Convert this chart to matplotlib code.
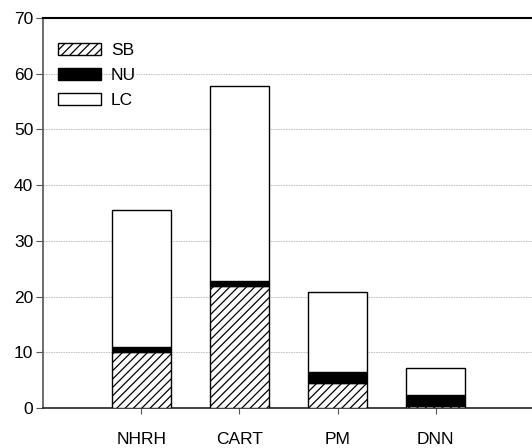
import numpy as np
import matplotlib.pyplot as plt

# ---- datos ----
metodos = ["NHRH", "CART", "PM", "DNN"]
sb = [10.0, 21.9, 4.4, 0.3]
nu = [0.9, 0.9, 2.1, 2.0]
lc = [24.6, 35.0, 14.4, 4.8]

plt.rcParams["font.family"] = ["Liberation Sans", "DejaVu Sans"]
plt.rcParams["hatch.linewidth"] = 0.9

fig = plt.figure(figsize=(5.32, 4.48), dpi=100)
ax = fig.add_axes([43 / 532, 1 - 408 / 448, 1 - 43 / 532, (408 - 18) / 448])

x = np.arange(1, len(metodos) + 1)
w = 0.6
sb_a = np.array(sb)
nu_a = np.array(nu)
lc_a = np.array(lc)

ax.bar(x, sb_a, w, color="white", edgecolor="black", hatch="////", linewidth=1.0, label="SB", zorder=3)
ax.bar(x, nu_a, w, bottom=sb_a, color="black", edgecolor="black", linewidth=1.0, label="NU", zorder=3)
ax.bar(x, lc_a, w, bottom=sb_a + nu_a, color="white", edgecolor="black", linewidth=1.0, label="LC", zorder=3)

ax.set_xlim(0, 4.98)
ax.set_ylim(0, 70)
ax.set_yticks(np.arange(0, 71, 10))
ax.set_xticks(x)
ax.set_xticklabels(metodos)
ax.tick_params(axis="both", labelsize=12.5, colors="#555555", labelcolor="black")
ax.tick_params(axis="x", length=4, pad=13)
ax.tick_params(axis="y", length=5, pad=2)

for y in range(10, 70, 10):
    ax.axhline(y, color="#bbbbbb", linestyle=(0, (2, 1)), linewidth=0.6, zorder=1)

ax.spines["right"].set_visible(False)
ax.spines["left"].set_color("#555555")
ax.spines["left"].set_linewidth(1.2)
ax.spines["bottom"].set_color("#222222")
ax.spines["bottom"].set_linewidth(1.2)
ax.spines["top"].set_color("black")
ax.spines["top"].set_linewidth(1.5)

ax.legend(loc="upper left", bbox_to_anchor=(-0.012, 0.99), frameon=False, fontsize=12.5,
          handlelength=2.5, handleheight=0.7, labelspacing=0.58, handletextpad=0.55,
          borderaxespad=0.8)

plt.savefig("out.png", dpi=100)
